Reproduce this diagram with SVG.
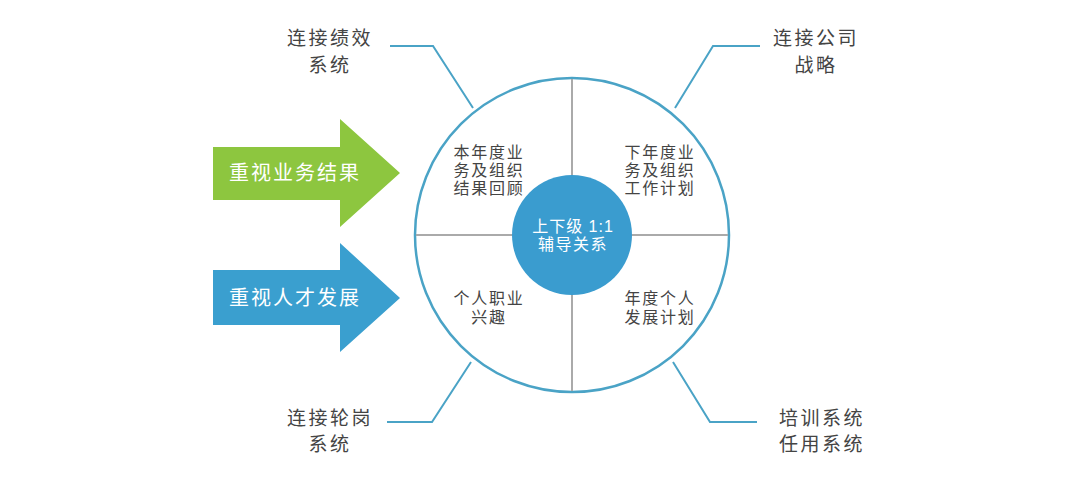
<svg xmlns="http://www.w3.org/2000/svg" width="1080" height="489" viewBox="0 0 1080 489">
<style>
.lbl{font-family:"Liberation Sans","Noto Sans CJK SC",sans-serif;font-size:19px;fill:#444;letter-spacing:2.5px;text-anchor:middle}
.q{font-family:"Liberation Sans","Noto Sans CJK SC",sans-serif;font-size:16px;fill:#444;letter-spacing:1.8px;text-anchor:middle}
.w{font-family:"Liberation Sans","Noto Sans CJK SC",sans-serif;fill:#fff;text-anchor:middle}
.conn{fill:none;stroke:#4aa3c6;stroke-width:2}
.cross{stroke:#aaaaaa;stroke-width:2}
</style>
<rect width="1080" height="489" fill="#fff"/>
<g id="arrow-green">
<polygon points="213,147 340,147 340,119 400,173 340,227 340,200 213,200" fill="#8dc63f"/>
<text class="w" x="295" y="180" font-size="20" letter-spacing="2">重视业务结果</text>
</g>
<g id="arrow-blue">
<polygon points="213,270 340,270 340,243 400,298 340,352 340,325 213,325" fill="#3a9fcf"/>
<text class="w" x="295" y="305" font-size="20" letter-spacing="2">重视人才发展</text>
</g>
<g id="connectors">
<polyline class="conn" points="390,46 433,46 473,108"/>
<polyline class="conn" points="760,46 713,46 675,108"/>
<polyline class="conn" points="387,422 432,422 471,362"/>
<polyline class="conn" points="757,422 710,422 673,362"/>
</g>
<g id="wheel">
<circle cx="572" cy="235" r="157" fill="#fff" stroke="#4aa3c6" stroke-width="2.5"/>
<line class="cross" x1="416" y1="235" x2="728" y2="235"/>
<line class="cross" x1="572" y1="79" x2="572" y2="391"/>
</g>
<g id="q1">
<text class="q" x="489" y="158">本年度业</text>
<text class="q" x="489" y="176">务及组织</text>
<text class="q" x="489" y="194">结果回顾</text>
</g>
<g id="q2">
<text class="q" x="660" y="158">下年度业</text>
<text class="q" x="660" y="176">务及组织</text>
<text class="q" x="660" y="194">工作计划</text>
</g>
<g id="q3">
<text class="q" x="489" y="304">个人职业</text>
<text class="q" x="489" y="323">兴趣</text>
</g>
<g id="q4">
<text class="q" x="660" y="304">年度个人</text>
<text class="q" x="660" y="323">发展计划</text>
</g>
<g id="center">
<circle cx="572" cy="235" r="60" fill="#3a9ccf"/>
<text class="w" x="573" y="232" font-size="16" letter-spacing="1">上下级 1:1</text>
<text class="w" x="573" y="250" font-size="16" letter-spacing="1.5">辅导关系</text>
</g>
<g id="label-tl">
<text class="lbl" x="330" y="45">连接绩效</text>
<text class="lbl" x="330" y="72">系统</text>
</g>
<g id="label-tr">
<text class="lbl" x="816" y="45">连接公司</text>
<text class="lbl" x="816" y="72">战略</text>
</g>
<g id="label-bl">
<text class="lbl" x="330" y="425">连接轮岗</text>
<text class="lbl" x="330" y="451">系统</text>
</g>
<g id="label-br">
<text class="lbl" x="822" y="425">培训系统</text>
<text class="lbl" x="822" y="451">任用系统</text>
</g>
</svg>
